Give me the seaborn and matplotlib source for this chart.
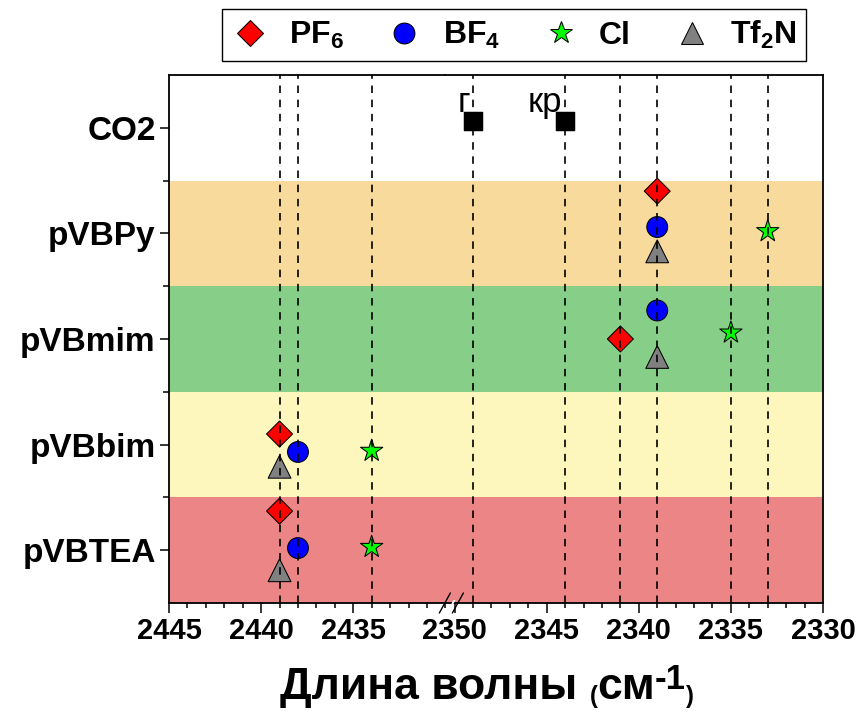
import numpy as np
import pandas as pd
import matplotlib
matplotlib.use('Agg')
import matplotlib.pyplot as plt
import seaborn as sns
from matplotlib.lines import Line2D
from matplotlib.patches import Polygon
from matplotlib.ticker import FixedLocator, MultipleLocator

# ---------------- data ----------------
polymers = ['pVBTEA', 'pVBbim', 'pVBmim', 'pVBPy']
row_labels = ['pVBTEA', 'pVBbim', 'pVBmim', 'pVBPy', 'CO2']
anions = ['PF$_6$', 'BF$_4$', 'Cl', 'Tf$_2$N']

wn_PF6 = [2439, 2439, 2341, 2339]
wn_BF4 = [2438, 2438, 2339, 2339]
wn_Cl = [2434, 2434, 2335, 2333]
wn_Tf2N = [2439, 2439, 2339, 2339]

# vertical placement of each point inside its row
yoff_PF6 = [0.37, 0.10, 0.00, 0.40]
yoff_BF4 = [0.02, -0.07, 0.27, 0.06]
yoff_Cl = [0.03, -0.06, 0.06, 0.02]
yoff_Tf2N = [-0.19, -0.21, -0.17, -0.17]

co2_labels = ['г', 'кр']
co2_wn = [2349, 2344]
co2_yoff = [0.06, 0.06]

x_left_ticks = [2445, 2440, 2435]
x_right_ticks = [2350, 2345, 2340, 2335, 2330]
band_colors = ['#EC8686', '#FDF7BD', '#87CF88', '#F8DA9C']

# ---------------- style ----------------
sns.set_style('ticks')
plt.rcParams['font.family'] = ['Liberation Sans', 'DejaVu Sans']
plt.rcParams['font.weight'] = 'bold'
for k in ('text.color', 'axes.labelcolor', 'xtick.color', 'ytick.color', 'axes.edgecolor'):
    plt.rcParams[k] = 'black'
plt.rcParams['mathtext.fontset'] = 'custom'
plt.rcParams['mathtext.rm'] = 'Liberation Sans:bold'
plt.rcParams['mathtext.it'] = 'Liberation Sans:bold'
plt.rcParams['mathtext.bf'] = 'Liberation Sans:bold'
plt.rcParams['mathtext.default'] = 'rm'

rows = []
for an, wn, yo in zip(anions, [wn_PF6, wn_BF4, wn_Cl, wn_Tf2N],
                      [yoff_PF6, yoff_BF4, yoff_Cl, yoff_Tf2N]):
    for i, p in enumerate(polymers):
        rows.append(dict(anion=an, polymer=p, wn=wn[i], y=i + yo[i]))
df = pd.DataFrame(rows)

markers = dict(zip(anions, ['D', 'o', '*', '^']))
palette = dict(zip(anions, ['#FF0000', '#0000FF', '#00FF00', '#808080']))
sizes = dict(zip(anions, [175, 225, 285, 270]))

fig = plt.figure(figsize=(8.61, 7.14), dpi=100)
gs = fig.add_gridspec(1, 2, width_ratios=[15, 20.5], wspace=0,
                      left=0.1963, right=0.9559, bottom=0.1555, top=0.895)
axL = fig.add_subplot(gs[0])
axR = fig.add_subplot(gs[1], sharey=axL)

for ax in (axL, axR):
    for i, c in enumerate(band_colors):
        ax.axhspan(i - 0.5, i + 0.5, color=c, lw=0, zorder=0)

for ax, sub in ((axL, df[df.wn > 2400]), (axR, df[df.wn < 2400])):
    sns.scatterplot(data=sub, x='wn', y='y', hue='anion', style='anion',
                    size='anion', hue_order=anions, style_order=anions, size_order=anions,
                    palette=palette, markers=markers, sizes=sizes, edgecolor='black',
                    linewidth=0.75, legend=False, ax=ax, zorder=2)
sns.scatterplot(x=co2_wn, y=[4 + o for o in co2_yoff], marker='s', color='black',
                s=177, edgecolor='black', legend=False, ax=axR, zorder=2)
for lab, w, yo in zip(co2_labels, co2_wn, co2_yoff):
    axR.annotate(lab, (w, 4 + yo), xytext=(-2, 7), textcoords='offset points',
                 ha='right', va='baseline', fontsize=25, fontweight='normal')

all_wn = sorted(set(wn_PF6 + wn_BF4 + wn_Cl + wn_Tf2N + co2_wn))
for w in all_wn:
    ax = axL if w > 2400 else axR
    ax.axvline(w, color='black', lw=1.2, dashes=(4.5, 4), zorder=3)

axL.set_xlim(2445, 2430)
axR.set_xlim(2350.5, 2330)
axL.set_ylim(-0.5, 4.5)

axL.set_xticks(x_left_ticks)
axR.set_xticks(x_right_ticks)
for ax in (axL, axR):
    ax.xaxis.set_minor_locator(MultipleLocator(1))
    ax.set_xlabel('')
    ax.set_ylabel('')
    for s in ax.spines.values():
        s.set_linewidth(1.3)
        s.set_color('black')
    ax.tick_params(axis='x', which='major', direction='out', length=7, width=1.1,
                   labelsize=21, pad=3, colors='black')
    ax.tick_params(axis='x', which='minor', direction='out', length=3.5, width=1.1)
    for t in ax.get_xticklabels():
        t.set_fontweight('bold')

axL.set_yticks(range(5))
axL.set_yticklabels(row_labels, fontsize=24, fontweight='bold')
axL.yaxis.set_minor_locator(FixedLocator([0.5, 1.5, 2.5, 3.5]))
axL.tick_params(axis='y', which='major', direction='out', length=6.5, width=1.1, pad=3)
axL.tick_params(axis='y', which='minor', direction='out', length=4, width=1.1)
axR.tick_params(axis='y', which='both', left=False, labelleft=False)
axL.spines['right'].set_visible(False)
axR.spines['left'].set_visible(False)

# axis-break marks
W, H = 377.0, 528.0
tr = axR.transAxes
gap = Polygon([(5 / W, -3 / H), (7 / W, -3 / H), (10 / W, 3 / H), (8 / W, 3 / H)],
              closed=True, transform=tr, facecolor='white', edgecolor='none',
              clip_on=False, zorder=5)
axR.add_patch(gap)
for dx in (0, 13):
    axR.add_line(Line2D([(-6 + dx) / W, (5 + dx) / W], [-10 / H, 10 / H], transform=tr,
                        color='black', lw=1.0, clip_on=False, zorder=6))

# legend
handles = [Line2D([], [], linestyle='none', marker=markers[a], markersize=np.sqrt(sizes[a]),
                  markerfacecolor=palette[a], markeredgecolor='black', markeredgewidth=0.75)
           for a in anions]
leg = fig.legend(handles, anions, loc='center', bbox_to_anchor=(0.597, 0.951), ncol=4,
                 frameon=True, fancybox=False, edgecolor='black', framealpha=1,
                 prop={'weight': 'bold', 'size': 23}, handletextpad=0.6,
                 columnspacing=1.3, borderpad=0.3, handlelength=1.2)
leg.get_frame().set_linewidth(1.0)

# x-axis title built from pieces (small parentheses, large superscript as in the original)
BIG, SMALL, SUP = 32, 17, 25
t1 = fig.text(0.325, 1 - 699 / 714, 'Длина волны ', ha='left', va='baseline',
              fontsize=BIG, fontweight='bold')
def chain(prev, s, size, dy):
    return axL.annotate(s, xy=(1, 0), xycoords=prev, xytext=(0, dy),
                        textcoords='offset points', ha='left', va='bottom',
                        fontsize=size, fontweight='bold', annotation_clip=False)
d = 0.212
t2 = chain(t1, '(', SMALL, 0)
t3 = chain(t2, 'см', BIG, 0)
up = d * (BIG - SUP) + 7.5
t4 = chain(t3, '-1', SUP, up)
t5 = chain(t4, ')', SMALL, -up)

fig.savefig('out.png', dpi=100)
